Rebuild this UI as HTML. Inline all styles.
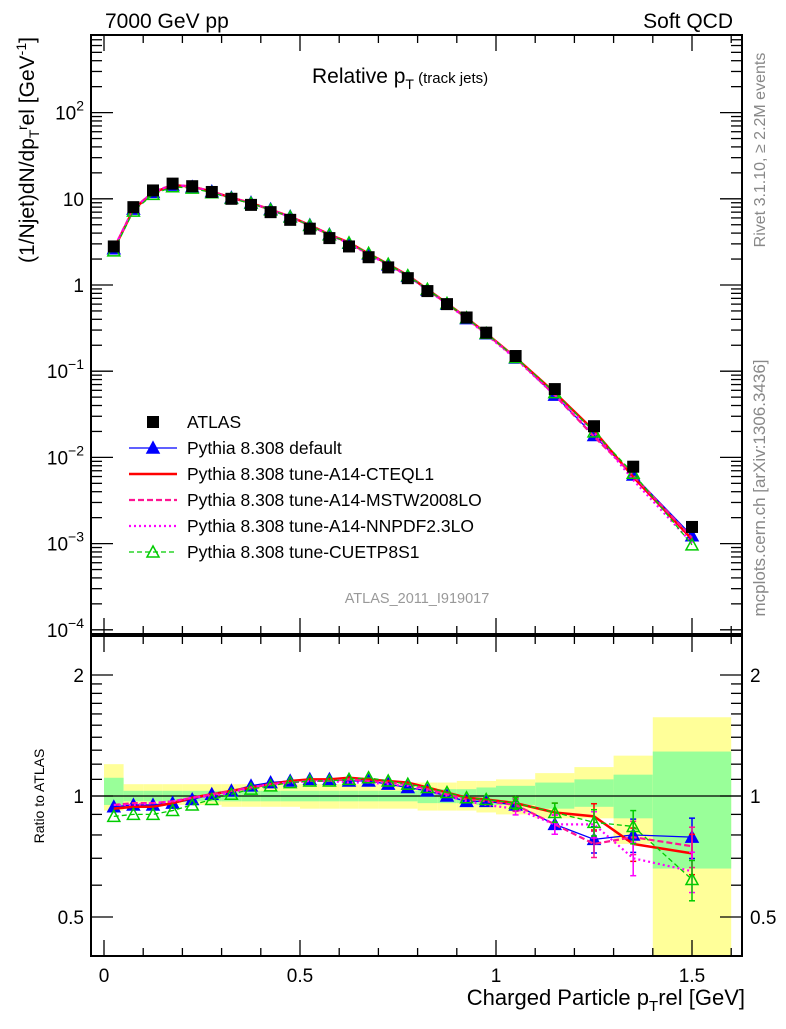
<!DOCTYPE html>
<html><head><meta charset="utf-8"><style>
body{margin:0;background:#fff}
svg text{font-family:"Liberation Sans",sans-serif}
</style></head><body>
<svg id="c" width="786" height="1024" viewBox="0 0 786 1024" xmlns="http://www.w3.org/2000/svg">
<g id="bands"></g>
<g id="grid"></g>
<g id="series"></g>
<g id="frame"></g>
<text x="105" y="28" font-size="21">7000 GeV pp</text>
<text x="733" y="28" font-size="21" text-anchor="end">Soft QCD</text>
<text x="312" y="83" font-size="21">Relative p<tspan font-size="14" dy="6">T</tspan><tspan font-size="15" dy="-6"> (track jets)</tspan></text>
<text transform="translate(34,150) rotate(-90)" font-size="21" text-anchor="middle">(1/Njet)dN/dp<tspan font-size="14" dy="5">T</tspan><tspan font-size="14" dy="-12">r</tspan><tspan dy="7">el [GeV</tspan><tspan font-size="14" dy="-8">-1</tspan><tspan dy="8">]</tspan></text>
<text transform="translate(44,796) rotate(-90)" font-size="14" text-anchor="middle">Ratio to ATLAS</text>
<text x="745" y="1005" font-size="22" text-anchor="end">Charged Particle p<tspan font-size="15" dy="6">T</tspan><tspan dy="-6">rel [GeV]</tspan></text>
<text transform="translate(765,150) rotate(-90)" font-size="16" fill="#888" text-anchor="middle">Rivet 3.1.10, ≥ 2.2M events</text>
<text transform="translate(765,488) rotate(-90)" font-size="17" fill="#888" text-anchor="middle">mcplots.cern.ch [arXiv:1306.3436]</text>
<text x="417" y="603" font-size="14.5" fill="#999" text-anchor="middle">ATLAS_2011_I919017</text>
<g id="legend"></g>
</svg>
<script>
const binLo=[0,0.05,0.1,0.15,0.2,0.25,0.3,0.35,0.4,0.45,0.5,0.55,0.6,0.65,0.7,0.75,0.8,0.85,0.9,0.95,1.0,1.1,1.2,1.3,1.4];
const binHi=[0.05,0.1,0.15,0.2,0.25,0.3,0.35,0.4,0.45,0.5,0.55,0.6,0.65,0.7,0.75,0.8,0.85,0.9,0.95,1.0,1.1,1.2,1.3,1.4,1.6];
const binX=[0.025,0.075,0.125,0.175,0.225,0.275,0.325,0.375,0.425,0.475,0.525,0.575,0.625,0.675,0.725,0.775,0.825,0.875,0.925,0.975,1.05,1.15,1.25,1.35,1.5];
const atlas=[2.8,8,12.5,15,14,12,10,8.5,7,5.7,4.5,3.5,2.8,2.1,1.6,1.2,0.85,0.6,0.42,0.28,0.15,0.062,0.023,0.0078,0.00156];
const yelHi=[1.2,1.07,1.07,1.07,1.07,1.07,1.07,1.07,1.07,1.07,1.07,1.07,1.07,1.07,1.07,1.08,1.08,1.08,1.09,1.09,1.1,1.14,1.18,1.26,1.57];
const yelLo=[0.92,0.95,0.95,0.95,0.95,0.95,0.94,0.94,0.94,0.94,0.93,0.93,0.93,0.93,0.93,0.93,0.92,0.92,0.92,0.91,0.9,0.88,0.88,0.76,0.3];
const grnHi=[1.11,1.03,1.03,1.03,1.03,1.03,1.03,1.03,1.03,1.03,1.03,1.03,1.03,1.03,1.03,1.03,1.04,1.04,1.04,1.05,1.06,1.08,1.1,1.13,1.29];
const grnLo=[0.95,0.97,0.97,0.97,0.97,0.97,0.97,0.97,0.97,0.97,0.97,0.97,0.97,0.97,0.97,0.97,0.96,0.96,0.96,0.95,0.95,0.93,0.94,0.88,0.66];
const rDefault=[0.94,0.95,0.95,0.96,0.98,1.01,1.03,1.06,1.08,1.09,1.10,1.10,1.09,1.09,1.07,1.05,1.03,1.0,0.97,0.97,0.95,0.85,0.78,0.80,0.79];
const rCTEQ=[0.93,0.94,0.94,0.96,0.99,1.01,1.03,1.05,1.07,1.09,1.10,1.10,1.11,1.10,1.09,1.08,1.05,1.02,0.99,0.98,0.96,0.91,0.89,0.76,0.72];
const rMSTW=[0.95,0.96,0.96,0.97,0.99,1.01,1.03,1.05,1.07,1.08,1.09,1.09,1.10,1.09,1.08,1.07,1.04,1.01,0.98,0.97,0.95,0.85,0.76,0.79,0.75];
const rNNPDF=[0.95,0.95,0.96,0.97,0.99,1.00,1.02,1.05,1.07,1.08,1.09,1.09,1.08,1.08,1.07,1.06,1.03,1.00,0.97,0.95,0.93,0.85,0.85,0.70,0.65];
const rCUETP=[0.89,0.90,0.90,0.92,0.95,0.98,1.01,1.04,1.06,1.08,1.09,1.09,1.10,1.11,1.09,1.07,1.05,1.02,0.99,0.98,0.96,0.91,0.86,0.84,0.62];
const xTicks=[0,0.5,1,1.5];
const xTickLabels=["0","0.5","1","1.5"];
const ratioTicks=[0.5,1,2];
const ratioTickLabels=["0.5","1","2"];

const NS="http://www.w3.org/2000/svg";
const L=91,R=742,MT=35,MB=634,RT=636,RB=956;
const X=v=>104+392*v;
const Y=v=>285-86.2*Math.log10(v);
const RY=v=>796-174.6*Math.log(v);
function mk(p,tag,a){const e=document.createElementNS(NS,tag);for(const k in a)e.setAttribute(k,a[k]);p.appendChild(e);return e;}
const g=id=>document.getElementById(id);
const clampR=y=>Math.max(RT,Math.min(RB,y));

binLo.forEach((lo,i)=>{
  const x0=X(lo),x1=X(binHi[i]);
  let r=mk(g('bands'),'rect',{x:x0,y:clampR(RY(yelHi[i])),width:x1-x0,height:clampR(RY(yelLo[i]))-clampR(RY(yelHi[i])),fill:'#ffff99'});
  
  
  r=mk(g('bands'),'rect',{x:x0,y:clampR(RY(grnHi[i])),width:x1-x0,height:clampR(RY(grnLo[i]))-clampR(RY(grnHi[i])),fill:'#99ff99'});
  
  
});
let one=mk(g('grid'),'line',{x1:L,x2:R,y1:RY(1),y2:RY(1),stroke:'#000','stroke-width':1.2});



const fr=g('frame');
[[MT,MB],[RT,RB]].forEach(([t,b])=>mk(fr,'rect',{x:L,y:t,width:R-L,height:b-t,fill:'none',stroke:'#000','stroke-width':2}));
function tk(x1,y1,x2,y2){mk(fr,'line',{x1,y1,x2,y2,stroke:'#000','stroke-width':1.3});}
for(let v=0;v<=1.6001;v+=0.1){
  const px=X(v),major=Math.abs(v*2-Math.round(v*2))<1e-6;const h=major?16:8;
  [MT,RT].forEach(t=>tk(px,t,px,t+h));[MB,RB].forEach(b=>tk(px,b,px,b-h));
}
for(let d=-4;d<=2;d++){for(let m=1;m<10;m++){const v=m*Math.pow(10,d);const py=Y(v);if(py<MT||py>MB)continue;const h=m==1?22:11;tk(L,py,L+h,py);tk(R,py,R-h,py);}}
const rt=[0.4,0.5,0.6,0.7,0.8,0.9,1,1.1,1.2,1.3,1.4,1.5,1.6,1.7,1.8,1.9,2,2.5];
rt.forEach(v=>{const py=RY(v);if(py<RT||py>RB)return;const h=[0.5,1,2].includes(v)?22:11;tk(L,py,L+h,py);tk(R,py,R-h,py);});
xTicks.forEach((v,i)=>{const t=mk(fr,'text',{x:X(v),y:982,'font-size':19,'text-anchor':'middle'});t.textContent=xTickLabels[i];
  
  });
ratioTicks.forEach((v,i)=>{[[84,'end'],[750,'start']].forEach(([x,a])=>{const t=mk(fr,'text',{x:x,y:RY(v)+7,'font-size':19,'text-anchor':a});t.textContent=ratioTickLabels[i];
  
  });});
for(let d=-4;d<=2;d++){const t=mk(fr,'text',{x:84,y:Y(Math.pow(10,d))+7,'font-size':19,'text-anchor':'end'});
  
  
  if(d==0)t.textContent='1';else if(d==1)t.textContent='10';else{t.textContent='10';const s=mk(t,'tspan',{'font-size':14,dy:-9});s.textContent=d<0?'\u2212'+(-d):''+d;}}

const series=[
 {n:'default',r:rDefault,c:'#0000ff',w:1.3,da:'',m:'tri'},
 {n:'cteql1',r:rCTEQ,c:'#ff0000',w:2.5,da:'',m:''},
 {n:'mstw2008lo',r:rMSTW,c:'#ff1493',w:2.2,da:'6,3',m:''},
 {n:'nnpdf23lo',r:rNNPDF,c:'#ff00ff',w:2.2,da:'2,3',m:''},
 {n:'cuetp8s1',r:rCUETP,c:'#00cc00',w:1.3,da:'5,3',m:'otri'}];
const sg=g('series');
function marker(p,type,x,y,c){
  if(type=='tri'||type=='otri'){const e=mk(p,'polygon',{points:`${x},${y-6} ${x-6},${y+5} ${x+6},${y+5}`,fill:type=='tri'?c:'none',stroke:c,'stroke-width':1.5});return e;}
}
function tk2(x,y1,y2,c){mk(sg,'line',{x1:x,x2:x,y1,y2,stroke:c,'stroke-width':1.5});mk(sg,'line',{x1:x-3,x2:x+3,y1,y2:y1,stroke:c,'stroke-width':1.5});mk(sg,'line',{x1:x-3,x2:x+3,y1:y2,y2,stroke:c,'stroke-width':1.5});}
series.forEach(s=>{
  const main=s.r.map((r,i)=>[X(binX[i]),Y(atlas[i]*r)]);
  const rat=s.r.map((r,i)=>[X(binX[i]),RY(r)]);
  [main,rat].forEach((pts,k)=>{
    const pl=mk(sg,'polyline',{points:pts.map(p=>p.join(',')).join(' '),fill:'none',stroke:s.c,'stroke-width':s.w,'stroke-dasharray':s.da});
    
    
    if(k==1){pts.forEach((p,i)=>{if(i>=20){const e=0.015+0.02*(i-19);tk2(p[0],RY(s.r[i]*(1+e)),RY(s.r[i]*(1-e)),s.c);}});}
    if(s.m)pts.forEach(p=>{const m=marker(sg,s.m,p[0],p[1],s.c);
      
      });
  });
});
atlas.forEach((v,i)=>{const r=mk(sg,'rect',{x:X(binX[i])-6,y:Y(v)-6,width:12,height:12,fill:'#000'});
  
  });

const lg=g('legend');
const labels=['ATLAS','Pythia 8.308 default','Pythia 8.308 tune-A14-CTEQL1','Pythia 8.308 tune-A14-MSTW2008LO','Pythia 8.308 tune-A14-NNPDF2.3LO','Pythia 8.308 tune-CUETP8S1'];
labels.forEach((lab,i)=>{
  const y=422+26*i;
  const eg=mk(lg,'g',{});
  
  
  if(i==0){mk(eg,'rect',{x:147,y:y-6,width:12,height:12,fill:'#000'});}
  else{const s=series[i-1];mk(eg,'line',{x1:129,x2:177,y1:y,y2:y,stroke:s.c,'stroke-width':s.w,'stroke-dasharray':s.da});if(s.m)marker(eg,s.m,153,y,s.c);}
  const t=mk(eg,'text',{x:187,y:y+6,'font-size':17.5});t.textContent=lab;
});
</script>
</body></html>
